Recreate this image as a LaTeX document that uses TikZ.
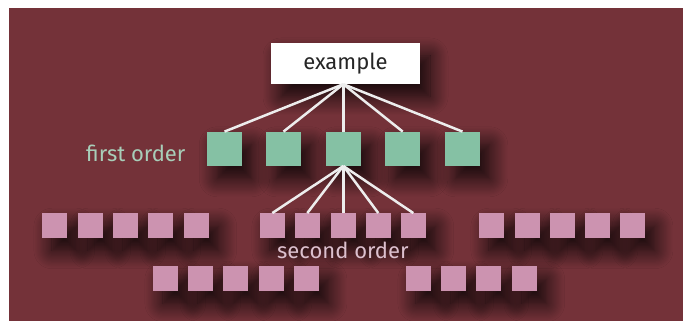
\documentclass[tikz,border=0pt]{standalone}
\usepackage{fontspec}
\setmainfont{Fira Sans}
\usetikzlibrary{shadows.blur}
\definecolor{bgred}{HTML}{743239}
\definecolor{gbox}{HTML}{85C1A4}
\definecolor{pbox}{HTML}{CC93B0}
\definecolor{gtext}{HTML}{A8CEB9}
\definecolor{ptext}{HTML}{DCC0CE}
\begin{document}
\begin{tikzpicture}[x=1pt,y=1pt,
  shad/.style={blur shadow={shadow xshift=10pt,shadow yshift=-13pt,shadow blur radius=18pt,shadow opacity=85,shadow blur steps=16}},
  rootbox/.style={fill=white,minimum width=149pt,minimum height=41pt,inner sep=0pt,shad,
    font=\fontsize{22}{25}\selectfont,text=black!85},
  firstbox/.style={fill=gbox,minimum width=34.5pt,minimum height=34pt,inner sep=0pt,shad},
  secondbox/.style={fill=pbox,minimum width=24.7pt,minimum height=24.5pt,inner sep=0pt,shad},
  link/.style={draw=white!93!black,line width=2.5pt},
  lbl/.style={inner sep=0pt,font=\fontsize{22}{25}\selectfont}
]
\useasboundingbox (0,0) rectangle (683,321);
\fill[bgred] (9,0) rectangle (683,313);

\node[rootbox] (ex) at (345.5,257.5) {example};

\node[firstbox] (g1) at (224.5,172.2) {};
\node[firstbox] (g2) at (283.5,172.2) {};
\node[firstbox] (g3) at (343.3,172.2) {};
\node[firstbox] (g4) at (402.7,172.2) {};
\node[firstbox] (g5) at (462.5,172.2) {};

\node[lbl,text=gtext,anchor=base west] (fo) at (86,159.5) {first order};

% second order, upper row
\node[secondbox] (a1) at (54.3,95.5) {};
\node[secondbox] (a2) at (90.3,95.5) {};
\node[secondbox] (a3) at (125.3,95.5) {};
\node[secondbox] (a4) at (160.3,95.5) {};
\node[secondbox] (a5) at (196.3,95.5) {};
\node[secondbox] (b1) at (272.3,95.5) {};
\node[secondbox] (b2) at (307.3,95.5) {};
\node[secondbox] (b3) at (343.3,95.5) {};
\node[secondbox] (b4) at (378.3,95.5) {};
\node[secondbox] (b5) at (413.3,95.5) {};
\node[secondbox] (c1) at (491.3,95.5) {};
\node[secondbox] (c2) at (527.3,95.5) {};
\node[secondbox] (c3) at (562.5,95.5) {};
\node[secondbox] (c4) at (597.5,95.5) {};
\node[secondbox] (c5) at (632.5,95.5) {};
% lower row
\node[secondbox] (d1) at (165.3,42.6) {};
\node[secondbox] (d2) at (200.3,42.6) {};
\node[secondbox] (d3) at (235.5,42.6) {};
\node[secondbox] (d4) at (271.5,42.6) {};
\node[secondbox] (d5) at (306.5,42.6) {};
\node[secondbox] (e1) at (418.3,42.6) {};
\node[secondbox] (e2) at (453.3,42.6) {};
\node[secondbox] (e3) at (488.3,42.6) {};
\node[secondbox] (e4) at (524.3,42.6) {};

\node[lbl,text=ptext,anchor=base west] (so) at (277,62) {second order};

\foreach \g in {g1,g2,g3,g4,g5}
  \draw[link] ([xshift=-2.2pt]ex.south) -- (\g.north);
\foreach \b in {b1,b2,b3,b4,b5}
  \draw[link] (g3.south) -- (\b.north);
\end{tikzpicture}
\end{document}
